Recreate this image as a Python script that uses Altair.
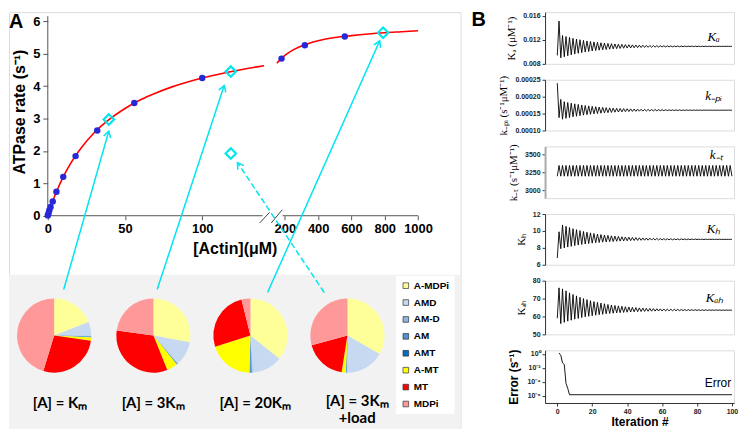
import math
import altair as alt
import pandas as pd

# ============ Panel A data ============
actin_meas = [0, 0.5, 1, 1.8, 3.2, 5.6, 10, 18, 32, 56, 100, 180, 320, 560]
rate_meas = [0.01, 0.08, 0.17, 0.27, 0.44, 0.74, 1.20, 1.84, 2.63, 3.48, 4.25, 4.85, 5.26, 5.53]

fit_actin_left = [0, 2, 5, 10, 15, 20, 30, 40, 50, 60, 70, 80, 90, 100, 110, 120, 130, 140]
fit_rate_left = [0, 0.29, 0.67, 1.20, 1.63, 1.99, 2.56, 2.98, 3.31, 3.58, 3.79, 3.97, 4.12, 4.25, 4.36, 4.46, 4.55, 4.63]
fit_actin_right = [152, 200, 250, 300, 400, 500, 600, 700, 800, 900, 1000]
fit_rate_right = [4.71, 4.95, 5.12, 5.24, 5.40, 5.50, 5.56, 5.61, 5.65, 5.68, 5.71]

sim_actin = [39.5, 118.5, 790, 118.5]
sim_rate = [2.97, 4.45, 5.65, 1.92]

x_ticks_left = [0, 50, 100]
x_ticks_right = [200, 400, 600, 800, 1000]
y_ticks = [0, 1, 2, 3, 4, 5, 6]

states = ["A-MDPi", "AMD", "AM-D", "AM", "AMT", "A-MT", "MT", "MDPi"]
state_colors = ["#FFFF99", "#C6D9F1", "#8DB4E2", "#558ED5", "#0070C0", "#FFFF00", "#FF0000", "#FF9999"]
pie_names = ["[A] = Kₘ", "[A] = 3Kₘ", "[A] = 20Kₘ", "[A] = 3Kₘ\n+load"]
pie_fracs = [
    [0.190, 0.061, 0.003, 0.002, 0.002, 0.014, 0.275, 0.453],
    [0.279, 0.107, 0.002, 0.002, 0.002, 0.047, 0.333, 0.228],
    [0.357, 0.133, 0.004, 0.006, 0.004, 0.197, 0.260, 0.039],
    [0.333, 0.168, 0.002, 0.002, 0.002, 0.018, 0.183, 0.292],
]
# layout of the inset (in panel-A plot units)
pie_cx = [4.1, 68.4, 131.2, 194.0]
pie_cy = [-3.70, -3.70, -3.70, -3.70]
pie_lx = [7.9, 68.2, 134.3, 200.3]
pie_ly = [-5.78, -5.78, -5.78, -5.72]

# arrows from pies to simulated points (x in axis units, y in rate units)
arr_x0 = [10.3, 70.8, 142.3, 179.0]
arr_y0 = [-2.28, -2.28, -2.37, -2.37]
arr_x1 = [39.5, 114.2, 214.9, 122.8]
arr_y1 = [2.61, 4.02, 5.40, 1.64]
arr_style = ["solid", "solid", "solid", "dashed"]

# ============ Panel B data ============
iters = list(range(101))
KA_e3 = [9.4, 15.1, 9.0, 12.7, 9.18, 12.54, 9.34, 12.38, 9.49, 12.24,
         9.63, 12.11, 9.75, 12.00, 9.86, 11.89, 9.96, 11.80, 10.05, 11.71,
         10.13, 11.64, 10.20, 11.57, 10.27, 11.50, 10.33, 11.45, 10.38, 11.39,
         10.43, 11.35, 10.48, 11.30, 10.52, 11.26, 10.55, 11.23, 10.59, 11.20,
         10.62, 11.17, 10.64, 11.15, 10.67, 11.12, 10.69, 11.10, 10.71, 11.08,
         10.73, 11.06, 10.74, 11.05, 10.76, 11.04, 10.77, 11.02, 10.78, 11.01,
         10.80, 11.00, 10.81, 10.99, 10.81, 10.98, 10.82, 10.97, 10.83, 10.97,
         10.84, 10.96, 10.84, 10.95, 10.85, 10.95, 10.85, 10.95, 10.86, 10.94,
         10.86, 10.94, 10.87, 10.93, 10.87, 10.93, 10.87, 10.93, 10.87, 10.92,
         10.88, 10.92, 10.88, 10.92, 10.88, 10.92, 10.88, 10.92, 10.89, 10.91,
         10.90]
kPi_e5 = [24.0, 13.8, 19.2, 13.34, 18.53, 13.59, 18.29, 13.82, 18.07, 14.03,
          17.88, 14.21, 17.70, 14.38, 17.54, 14.54, 17.39, 14.68, 17.26, 14.80,
          17.14, 14.92, 17.03, 15.02, 16.93, 15.11, 16.84, 15.20, 16.76, 15.27,
          16.69, 15.34, 16.62, 15.41, 16.57, 15.46, 16.51, 15.51, 16.46, 15.56,
          16.42, 15.60, 16.38, 15.64, 16.34, 15.68, 16.31, 15.71, 16.28, 15.73,
          16.25, 15.76, 16.23, 15.78, 16.21, 15.80, 16.19, 15.82, 16.17, 15.84,
          16.15, 15.85, 16.14, 15.87, 16.13, 15.88, 16.11, 15.89, 16.10, 15.90,
          16.09, 15.91, 16.08, 15.92, 16.08, 15.93, 16.07, 15.93, 16.06, 15.94,
          16.06, 15.95, 16.05, 15.95, 16.05, 15.96, 16.04, 15.96, 16.04, 15.96,
          16.03, 15.97, 16.03, 15.97, 16.03, 15.97, 16.03, 15.98, 16.02, 15.98,
          16.02]
kT = [3195, 3345, 3195, 3345, 3195, 3345, 3195, 3345, 3195, 3345,
      3195, 3345, 3195, 3345, 3195, 3345, 3195, 3345, 3195, 3345,
      3195, 3345, 3195, 3345, 3195, 3345, 3195, 3345, 3195, 3345,
      3195, 3345, 3195, 3345, 3195, 3345, 3195, 3345, 3195, 3345,
      3195, 3345, 3195, 3345, 3195, 3345, 3195, 3345, 3195, 3345,
      3195, 3345, 3195, 3345, 3195, 3345, 3195, 3345, 3195, 3345,
      3195, 3345, 3195, 3345, 3195, 3345, 3195, 3345, 3195, 3345,
      3195, 3345, 3195, 3345, 3195, 3345, 3195, 3345, 3195, 3345,
      3195, 3345, 3195, 3345, 3195, 3345, 3195, 3345, 3195, 3345,
      3195, 3345, 3195, 3345, 3195, 3345, 3195, 3345, 3195, 3345,
      3195]
KH = [6.8, 9.9, 7.9, 10.71, 8.00, 10.55, 8.10, 10.40, 8.18, 10.27,
      8.26, 10.15, 8.33, 10.04, 8.40, 9.94, 8.45, 9.85, 8.51, 9.77,
      8.55, 9.70, 8.60, 9.63, 8.63, 9.57, 8.67, 9.52, 8.70, 9.47,
      8.73, 9.42, 8.75, 9.38, 8.78, 9.35, 8.80, 9.31, 8.82, 9.28,
      8.84, 9.26, 8.85, 9.23, 8.87, 9.21, 8.88, 9.19, 8.89, 9.17,
      8.90, 9.16, 8.91, 9.14, 8.92, 9.13, 8.93, 9.12, 8.93, 9.10,
      8.94, 9.09, 8.95, 9.08, 8.95, 9.08, 8.95, 9.07, 8.96, 9.06,
      8.96, 9.06, 8.97, 9.05, 8.97, 9.05, 8.97, 9.04, 8.98, 9.04,
      8.98, 9.03, 8.98, 9.03, 8.98, 9.03, 8.99, 9.02, 8.99, 9.02,
      8.99, 9.02, 8.99, 9.02, 8.99, 9.01, 8.99, 9.01, 9.00, 9.01,
      9.00]
KAH = [59.0, 76.0, 56.0, 75.4, 56.7, 74.3, 57.4, 73.2, 57.9, 72.3,
       58.5, 71.5, 58.9, 70.7, 59.4, 70.0, 59.8, 69.4, 60.1, 68.8,
       60.4, 68.3, 60.7, 67.9, 61.0, 67.5, 61.2, 67.1, 61.5, 66.7,
       61.65, 66.4, 61.8, 66.15, 62.0, 65.9, 62.1, 65.7, 62.25, 65.45,
       62.4, 65.3, 62.5, 65.1, 62.6, 64.95, 62.67, 64.8, 62.75, 64.7,
       62.82, 64.58, 62.9, 64.48, 62.95, 64.39, 63.0, 64.3, 63.04, 64.22,
       63.09, 64.15, 63.12, 64.09, 63.16, 64.04, 63.19, 63.99, 63.22, 63.94,
       63.25, 63.9, 63.27, 63.86, 63.3, 63.83, 63.31, 63.8, 63.33, 63.77,
       63.35, 63.74, 63.36, 63.72, 63.37, 63.7, 63.39, 63.68, 63.4, 63.66,
       63.41, 63.65, 63.42, 63.63, 63.42, 63.62, 63.43, 63.61, 63.44, 63.6,
       63.45]
err_iter = [1, 2, 3, 4, 5, 6, 7, 100]
err_val = [1.3, 0.6, 0.05, 0.03, 6e-5, 1.2e-5, 1.5e-6, 1.5e-6]

# ============ Panel A layout ============
W_A, H_A = 454, 420
AX_X = 39.0      # px from plot left where the x axis starts
PX_POS = 1.553   # px per axis unit (left segment)
AX_Y = 204.7     # px from plot top where rate = 0
PX_RATE = 32.57  # px per rate unit
RIGHT_START = 153.5
RIGHT_SLOPE = 0.10775
pos_expr = f"datum.actin <= 145 ? datum.actin : {RIGHT_START} + (datum.actin - 200) * {RIGHT_SLOPE}"

xs = alt.Scale(domain=[-AX_X / PX_POS, (W_A - AX_X) / PX_POS], nice=False, zero=False)
ys = alt.Scale(domain=[-(H_A - AX_Y) / PX_RATE, AX_Y / PX_RATE], nice=False, zero=False)

xtick_pos = x_ticks_left + [RIGHT_START + (t - 200) * RIGHT_SLOPE for t in x_ticks_right]
FONT = "Liberation Sans"
xaxis = alt.Axis(
    values=xtick_pos,
    labelExpr=f"datum.value < 140 ? format(datum.value, 'd') : format(round((200 + (datum.value - {RIGHT_START}) / {RIGHT_SLOPE}) / 200) * 200, 'd')",
    domain=False, grid=False, tickSize=4, tickColor="#555", offset=-(H_A - AX_Y), labelOverlap=False,
    labelFont=FONT, labelFontSize=13, labelFontWeight="bold", labelColor="black", labelPadding=3,
    title="[Actin](μM)", titleFont=FONT, titleFontSize=16, titleFontWeight="bold", titleColor="black",
    titlePadding=5)
yaxis = alt.Axis(
    values=y_ticks, domain=False, grid=False, tickSize=5, tickColor="#555", offset=-AX_X, labelOverlap=False,
    labelFont=FONT, labelFontSize=13, labelFontWeight="bold", labelColor="black", labelPadding=3,
    title="ATPase rate (s⁻¹)", titleFont=FONT, titleFontSize=16, titleFontWeight="bold",
    titleColor="black", titleX=-20, titleY=100)


def X(f):
    return alt.X(f, type="quantitative", scale=xs, axis=xaxis)


def Y(f):
    return alt.Y(f, type="quantitative", scale=ys, axis=yaxis)


meas_df = pd.DataFrame({"actin": actin_meas, "rate": rate_meas})
fit_df = pd.DataFrame({
    "actin": fit_actin_left + fit_actin_right,
    "rate": fit_rate_left + fit_rate_right,
    "seg": ["L"] * len(fit_actin_left) + ["R"] * len(fit_actin_right),
})
sim_df = pd.DataFrame({"actin": sim_actin, "rate": sim_rate})

# grey inset box and axis lines
box_df = pd.DataFrame({"x": [xs.domain[0]], "x2": [xs.domain[1]], "y": [ys.domain[0]], "y2": [-1.82]})
box = alt.Chart(box_df).mark_rect(color="#F2F2F2").encode(x=X("x"), x2="x2", y=Y("y"), y2="y2")

axl_df = pd.DataFrame({"x": [0, 0, 152.0], "x2": [0, 139.1, 239.9], "y": [0, 0, 0], "y2": [6.16, 0, 0]})
axlines = alt.Chart(axl_df).mark_rule(color="#555", strokeWidth=1).encode(x=X("x"), x2="x2", y=Y("y"), y2="y2")

brk_df = pd.DataFrame({"x": [137.2, 144.7], "x2": [143.6, 151.8], "y": [-0.224, -0.224], "y2": [0.104, 0.184]})
breaks = alt.Chart(brk_df).mark_rule(color="#444", strokeWidth=1).encode(x=X("x"), x2="x2", y=Y("y"), y2="y2")

fit = alt.Chart(fit_df).transform_calculate(pos=pos_expr).mark_line(
    color="#FF0000", strokeWidth=1.6, interpolate="monotone").encode(x=X("pos"), y=Y("rate"), detail="seg:N")
pts = alt.Chart(meas_df).transform_calculate(pos=pos_expr).mark_circle(
    color="#2828D8", size=42, opacity=1).encode(x=X("pos"), y=Y("rate"))
sims = alt.Chart(sim_df).transform_calculate(pos=pos_expr).mark_point(
    shape="diamond", size=110, color="#00E5EE", strokeWidth=2.2, filled=False, opacity=1).encode(x=X("pos"), y=Y("rate"))

arr_df = pd.DataFrame({"x": arr_x0, "y": arr_y0, "x2": arr_x1, "y2": arr_y1, "style": arr_style})
arr_df["ang"] = [math.degrees(math.atan2((b - a) * PX_POS, (d - c) * PX_RATE)) % 360
                 for a, b, c, d in zip(arr_x0, arr_x1, arr_y0, arr_y1)]
dash = alt.StrokeDash("style:N", scale=alt.Scale(domain=["solid", "dashed"], range=[[1, 0], [6, 3]]), legend=None)
arrows = alt.Chart(arr_df).mark_rule(color="#00E5EE", strokeWidth=1.5).encode(
    x=X("x"), y=Y("y"), x2="x2", y2="y2", strokeDash=dash)
heads = alt.Chart(arr_df).mark_point(
    shape="M-0.6,1L0,0L0.6,1", size=150, filled=False, color="#00E5EE", strokeWidth=1.5, opacity=1).encode(
    x=X("x2"), y=Y("y2"), angle=alt.Angle("ang:Q", scale=None))

rows = []
for i, fr in enumerate(pie_fracs):
    tot = sum(fr)
    cum = 0.0
    for s, f in zip(states, fr):
        rows.append({"pie": i, "state": s, "cx": pie_cx[i], "cy": pie_cy[i],
                     "t0": 2 * math.pi * cum / tot, "t1": 2 * math.pi * (cum + f) / tot})
        cum += f
pie_df = pd.DataFrame(rows)
legend = alt.Legend(title=None, orient="none", legendX=389, legendY=265, fillColor="white", padding=5,
                    symbolType="square", symbolSize=32, symbolStrokeColor="#333", symbolStrokeWidth=0.7,
                    labelFont=FONT, labelFontSize=10, labelFontWeight="bold", labelColor="black",
                    rowPadding=7, labelOffset=3)
pies = alt.Chart(pie_df).mark_arc(radius=37.3).encode(
    x=X("cx"), y=Y("cy"),
    theta=alt.Theta("t0:Q", scale=None, stack=False), theta2="t1:Q",
    color=alt.Color("state:N", scale=alt.Scale(domain=states, range=state_colors), sort=states, legend=legend))

lab_df = pd.DataFrame({"x": pie_lx, "y": pie_ly, "t": pie_names})
pie_labels = alt.Chart(lab_df).mark_text(
    font="Lato", fontSize=15, fontWeight="bold", color="black", lineBreak="\n", baseline="middle").encode(
    x=X("x"), y=Y("y"), text="t:N")

letterA = alt.Chart(pd.DataFrame({"t": ["A"]})).mark_text(
    font=FONT, fontSize=20, fontWeight="bold", align="left", baseline="top", color="black").encode(
    x=alt.value(0), y=alt.value(0), text="t:N")

panelA = alt.layer(box, axlines, breaks, fit, arrows, heads, pts, sims, pies, pie_labels, letterA).properties(
    width=W_A, height=H_A)

# ============ Panel B ============
XB = alt.Scale(domain=[-7, 101.2], nice=False, zero=False)
W_B = 190


def b_chart(xv, yv, title, dom, ticks, fmt, lab, lab_x, lab_y, h, axis_color="#333", axis_w=1,
            log=False, last=False, lab_serif=True, title_serif=True, extra=None, label_expr=None):
    df = pd.DataFrame({"it": xv, "v": yv})
    ysc = alt.Scale(domain=dom, nice=False, zero=False, type="log" if log else "linear")
    yax_kw = dict(values=ticks, grid=False, domainColor=axis_color, domainWidth=axis_w, tickColor="#333",
                  tickSize=3, labelFont=FONT, labelFontSize=7, labelFontWeight="bold", labelColor="#222",
                  labelPadding=2, labelOverlap=False, title=title, titlePadding=6,
                  titleFont="Liberation Serif" if title_serif else FONT,
                  titleFontSize=11 if title_serif else 12,
                  titleFontWeight="normal" if title_serif else "bold", titleColor="black")
    if label_expr:
        yax_kw["labelExpr"] = label_expr
    else:
        yax_kw["format"] = fmt
    yax = alt.Axis(**yax_kw)
    if last:
        xax = alt.Axis(values=[0, 20, 40, 60, 80, 100], grid=False, domainColor="#333", tickColor="#333",
                       tickSize=3, labelFont=FONT, labelFontSize=7, labelFontWeight="bold", labelColor="#222",
                       labelPadding=2, labelOverlap=False, title="Iteration #", titleFont=FONT, titleFontSize=12,
                       titleFontWeight="bold", titleColor="black", titlePadding=2)
    else:
        xax = None

    def xenc(f):
        return alt.X(f, type="quantitative", scale=XB, axis=xax)

    def yenc(f):
        return alt.Y(f, type="quantitative", scale=ysc, axis=yax)

    line = alt.Chart(df).mark_line(color="black", strokeWidth=0.9).encode(x=xenc("it"), y=yenc("v"))
    ldf = pd.DataFrame({"it": [lab_x], "v": [lab_y], "t": [lab]})
    txt = alt.Chart(ldf).mark_text(
        font="Liberation Serif" if lab_serif else FONT, fontSize=13 if lab_serif else 12,
        fontStyle="italic" if lab_serif else "normal", color="black", baseline="middle").encode(
        x=xenc("it"), y=yenc("v"), text="t:N")
    layers = [line, txt]
    if extra is not None:
        layers.append(extra)
    return alt.layer(*layers).properties(width=W_B, height=h)


letterB = alt.Chart(pd.DataFrame({"t": ["B"]})).mark_text(
    font=FONT, fontSize=20, fontWeight="bold", align="left", baseline="top", color="black").encode(
    x=alt.value(-74), y=alt.value(-2), text="t:N")

err_expr = ("round(log(datum.value)/LN10) == 0 ? '10⁰' : round(log(datum.value)/LN10) == -2 ? '10⁻²' : "
            "round(log(datum.value)/LN10) == -4 ? '10⁻⁴' : '10⁻⁶'")

b1 = b_chart(iters, [v * 1e-3 for v in KA_e3], "Kₐ (μM⁻¹)", [0.008, 0.01658], [0.008, 0.012, 0.016], ".3f",
             "Kₐ", 89.5, 0.0124, 52, extra=letterB)
b2 = b_chart(iters, [v * 1e-5 for v in kPi_e5], "k₋ₚᵢ (s⁻¹μM⁻¹)", [0.0001, 0.00025],
             [0.0001, 0.00015, 0.0002, 0.00025], ".5f", "k₋ₚᵢ", 89.5, 0.000203, 51)
b3 = b_chart(iters, kT, "k₋ₜ (s⁻¹μM⁻¹)", [2890, 3610], [3000, 3250, 3500], "d", "k₋ₜ", 91, 3485, 52,
             axis_color="#AAAAAA", axis_w=2)
b4 = b_chart(iters, KH, "Kₕ", [6, 12], [6, 8, 10, 12], "d", "Kₕ", 89.5, 10.25, 51)
b5 = b_chart(iters, KAH, "Kₐₕ", [50, 80], [50, 60, 70, 80], "d", "Kₐₕ", 90, 70.1, 54)
b6 = b_chart(err_iter, err_val, "Error (s⁻¹)", [1e-7, 3.16], [1e-6, 1e-4, 1e-2, 1], "", "Error", 92, 8e-5, 53,
             log=True, last=True, lab_serif=False, title_serif=False, label_expr=err_expr)

panelB = alt.vconcat(b1, b2, b3, b4, b5, b6, spacing=16, bounds="flush")

chart = alt.hconcat(panelA, panelB, spacing=9).properties(padding=0).configure_view(stroke=None).configure(
    background="white")

chart.save("out.html", embed_options={"renderer": "svg", "actions": False})
